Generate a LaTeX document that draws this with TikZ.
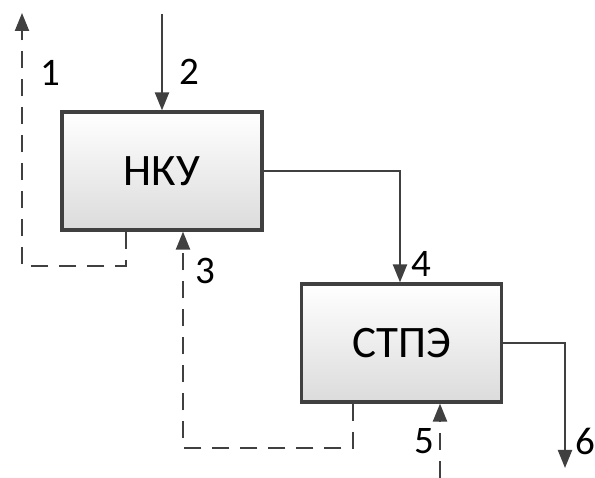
\documentclass[tikz,border=0pt]{standalone}
\usepackage{fontspec}
\setmainfont{Carlito}
\usetikzlibrary{arrows.meta,calc}
\definecolor{ln}{HTML}{404040}
\begin{document}
\begin{tikzpicture}[x=1pt,y=-1pt,
  blk/.style={draw=ln,line width=3.2pt,minimum width=200pt,minimum height=118pt,
    top color=white,bottom color=black!14,inner sep=0pt,font=\fontsize{45}{48}\selectfont},
  flow/.style={draw=ln,line width=2.2pt,-{Triangle[length=18pt,width=14pt]}},
  dflow/.style={flow,dash pattern=on 17pt off 11pt},
  lbl/.style={font=\fontsize{39}{42}\selectfont,inner sep=0pt}]
\useasboundingbox (0,0) rectangle (595,478);
\node[blk] (nku) at (162,171) {НКУ};
\node[blk] (stpe) at (401.5,343) {СТПЭ};
\coordinate (s1) at (22,13);
\coordinate (s2) at (162,14);
\coordinate (s3) at (183,448);
\coordinate (s5) at (440,478);
\coordinate (s6) at (565,468);
% 1
\draw[dflow] (nku.south -| 126,0) -- (126,266) -- (22,266) -- (s1);
% 2
\draw[flow] (s2) -- (nku.north -| s2);
% 3
\draw[dflow] (stpe.south -| 353,0) -- (353,448) -- (s3) -- (nku.south -| s3);
% 4
\draw[flow] (nku.east) -- (nku.east -| 400,0) -- (stpe.north -| 400,0);
% 5
\draw[dflow] (s5) -- (stpe.south -| s5);
% 6
\draw[flow] (stpe.east) -- (stpe.east -| s6) -- (s6);
\node[lbl] (l1) at (50,73) {1};
\node[lbl] (l2) at (189,72) {2};
\node[lbl] (l3) at (205,271) {3};
\node[lbl] (l4) at (421,264) {4};
\node[lbl] (l5) at (424,441) {5};
\node[lbl] (l6) at (585,441) {6};
\end{tikzpicture}
\end{document}
